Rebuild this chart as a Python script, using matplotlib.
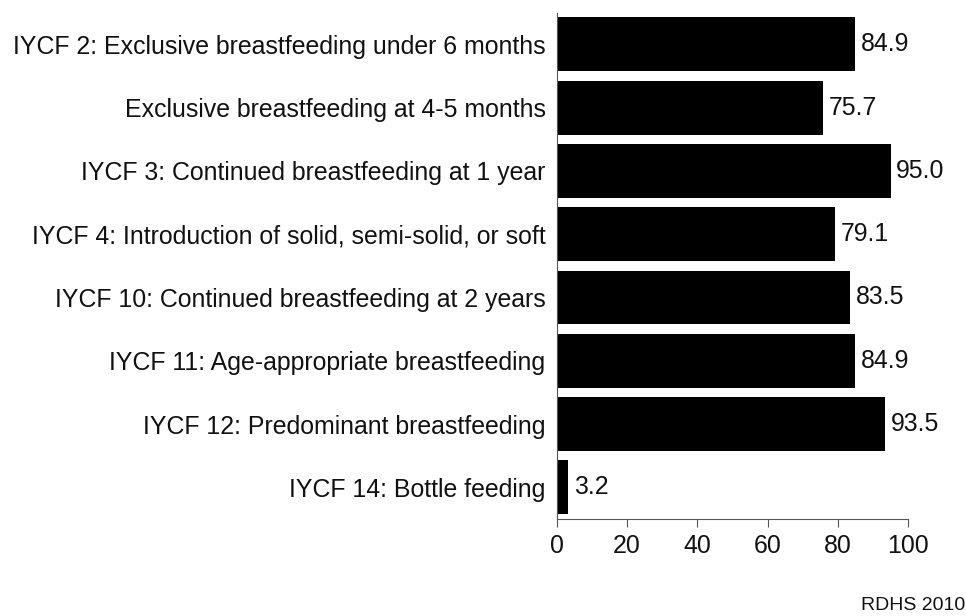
import matplotlib.pyplot as plt

plt.rcParams['font.family'] = ['Liberation Sans', 'DejaVu Sans']

labels = [
    "IYCF 2: Exclusive breastfeeding under 6 months",
    "Exclusive breastfeeding at 4-5 months",
    "IYCF 3: Continued breastfeeding at 1 year",
    "IYCF 4: Introduction of solid, semi-solid, or soft",
    "IYCF 10: Continued breastfeeding at 2 years",
    "IYCF 11: Age-appropriate breastfeeding",
    "IYCF 12: Predominant breastfeeding",
    "IYCF 14: Bottle feeding",
]
values = [84.9, 75.7, 95.0, 79.1, 83.5, 84.9, 93.5, 3.2]
ticks = [0, 20, 40, 60, 80, 100]

fig = plt.figure(figsize=(9.66, 6.16), dpi=100)
ax = fig.add_axes([0.5763, 0.1575, 0.364, 0.8219])

pos = list(range(len(values)))
ax.barh(pos, values, height=0.85, color='black')
for p, v in zip(pos, values):
    ax.text(v + 1.6, p, f"{v:.1f}", va='center', ha='left', fontsize=17.9, color='#111111')

ax.set_ylim(len(values) - 0.5, -0.5)
ax.set_xlim(0, 100)
ax.set_yticks(pos)
ax.set_yticklabels(labels, fontsize=17.9, color='#111111')
ax.set_xticks(ticks)
ax.set_xticklabels([str(t) for t in ticks], fontsize=17.9, color='#111111')
ax.tick_params(axis='y', length=0, pad=8)
ax.tick_params(axis='x', length=6, color='#555555', pad=5)

for s in ['top', 'right']:
    ax.spines[s].set_visible(False)
ax.spines['left'].set_color('#555555')
ax.spines['bottom'].set_color('#555555')

fig.text(0.999, 0.004, "RDHS 2010", ha='right', va='bottom', fontsize=14, color='#111111')

fig.savefig('out.png', dpi=100)
